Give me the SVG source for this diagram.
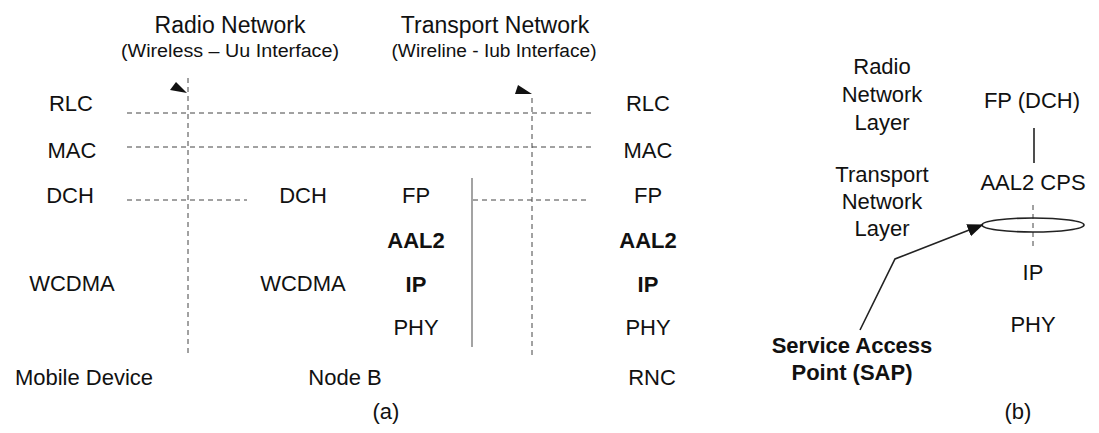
<svg xmlns="http://www.w3.org/2000/svg" width="1099" height="433" viewBox="0 0 1099 433">
<style>
text{font-family:"Liberation Sans",Arial,sans-serif;fill:#111;text-anchor:middle}
.t{font-size:22px}
.h{font-size:23px}
.s{font-size:18px}
.b{font-weight:bold}
.d{stroke:#444;stroke-width:1;stroke-dasharray:5 4;fill:none}
.l{stroke:#222;stroke-width:1.6;fill:none}
</style>
<defs>
<marker id="ah2" viewBox="0 0 10 10" refX="9" refY="5" markerWidth="16" markerHeight="16" markerUnits="userSpaceOnUse" orient="auto"><path d="M0,1 L10,5 L0,9 z" fill="#111"/></marker>
</defs>
<g id="titles">
<text class="h" x="230" y="33">Radio Network</text>
<text class="s" x="230" y="57" textLength="218" lengthAdjust="spacingAndGlyphs">(Wireless –  Uu Interface)</text>
<text class="h" x="495" y="33">Transport Network</text>
<text class="s" x="494" y="57" textLength="205" lengthAdjust="spacingAndGlyphs">(Wireline - Iub Interface)</text>
</g>
<g id="mobile">
<text class="t" x="71" y="111">RLC</text>
<text class="t" x="72" y="158">MAC</text>
<text class="t" x="70" y="203">DCH</text>
<text class="t" x="72" y="291">WCDMA</text>
<text class="t" x="84" y="385">Mobile Device</text>
</g>
<g id="nodeb">
<text class="t" x="303" y="203">DCH</text>
<text class="t" x="303" y="291">WCDMA</text>
<text class="t" x="416" y="203">FP</text>
<text class="t b" x="416" y="248">AAL2</text>
<text class="t b" x="416" y="292">IP</text>
<text class="t" x="416" y="335">PHY</text>
<text class="t" x="345" y="385">Node B</text>
</g>
<g id="rnc">
<text class="t" x="648" y="111">RLC</text>
<text class="t" x="648" y="158">MAC</text>
<text class="t" x="648" y="203">FP</text>
<text class="t b" x="648" y="248">AAL2</text>
<text class="t b" x="648" y="292">IP</text>
<text class="t" x="648" y="335">PHY</text>
<text class="t" x="652" y="385">RNC</text>
</g>
<g id="labels">
<text class="t" x="386" y="419">(a)</text>
<text class="t" x="1018" y="419">(b)</text>
</g>
<g id="layers-b">
<text class="t" x="882" y="74">Radio</text>
<text class="t" x="882" y="102">Network</text>
<text class="t" x="882" y="130">Layer</text>
<text class="t" x="882" y="182">Transport</text>
<text class="t" x="882" y="209">Network</text>
<text class="t" x="882" y="236">Layer</text>
<text class="t" x="1032" y="108">FP (DCH)</text>
<text class="t" x="1033" y="190">AAL2 CPS</text>
<text class="t" x="1033" y="280">IP</text>
<text class="t" x="1033" y="332">PHY</text>
</g>
<g id="sap">
<text class="t b" x="852" y="353">Service Access</text>
<text class="t b" x="852" y="380">Point (SAP)</text>
</g>
<g id="connectors">
<line class="d" x1="188" y1="78" x2="188" y2="355"/>
<polygon points="176,82 170,90 187,93" fill="#111"/>
<line class="d" x1="532" y1="98" x2="532" y2="355"/>
<polygon points="518,85 515,94 532,94" fill="#111"/>
<line class="d" x1="127" y1="113" x2="593" y2="113"/>
<line class="d" x1="127" y1="147" x2="593" y2="147"/>
<line class="d" x1="127" y1="200" x2="247" y2="200"/>
<line class="d" x1="473" y1="200" x2="590" y2="200"/>
<line x1="472" y1="178" x2="472" y2="347" stroke="#666" stroke-width="1.2"/>
<line class="l" x1="1034" y1="128" x2="1034" y2="163"/>
<line class="d" x1="1033" y1="205" x2="1033" y2="247" stroke-width="1.6"/>
<ellipse cx="1033" cy="225" rx="51" ry="7" class="l"/>
<polyline class="l" points="860,330 895,259 982,225" marker-end="url(#ah2)"/>
</g>
</svg>
